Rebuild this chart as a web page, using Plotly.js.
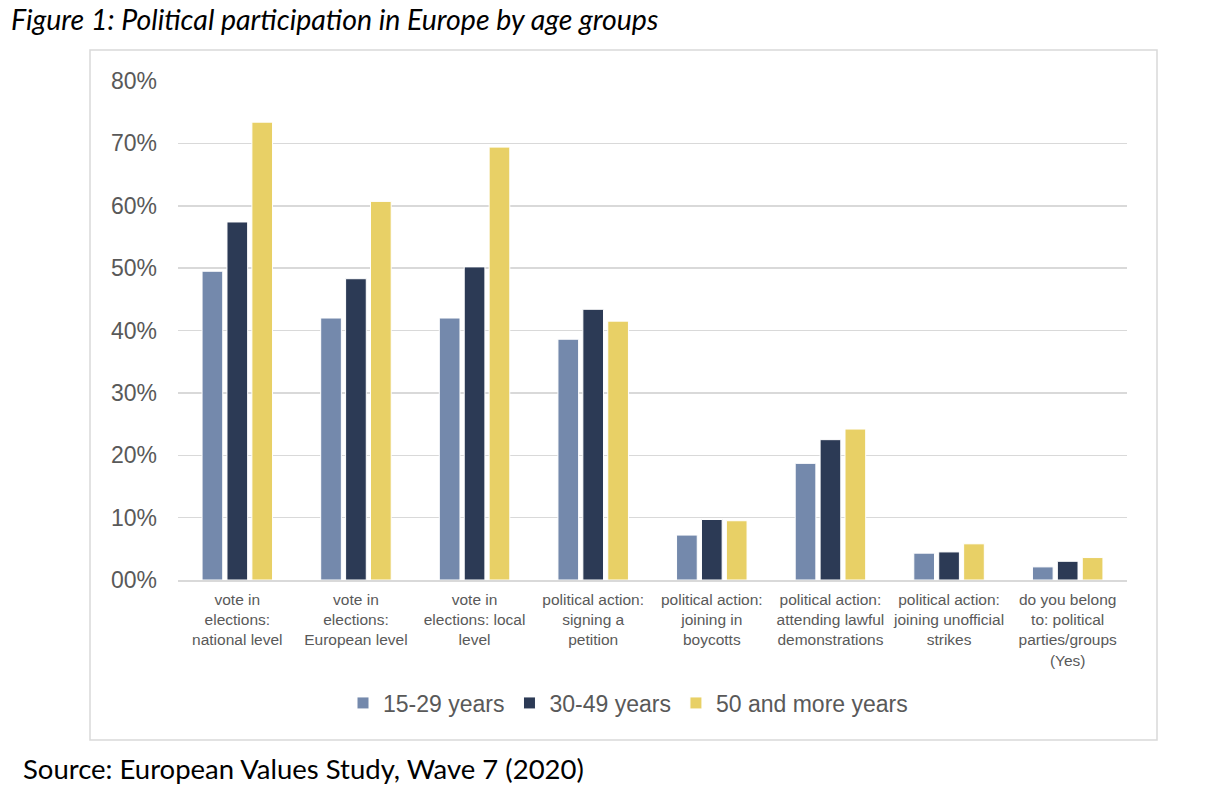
<!DOCTYPE html>
<html><head><meta charset="utf-8">
<script src="https://cdn.plot.ly/plotly-3.0.1.min.js"></script>
<style>html,body{margin:0;padding:0;background:#fff;}#chart{width:1216px;height:786px;}</style>
</head><body><div id="chart"></div>
<script>
const categories = [
  "vote in<br>elections:<br>national level",
  "vote in<br>elections:<br>European level",
  "vote in<br>elections: local<br>level",
  "political action:<br>signing a<br>petition",
  "political action:<br>joining in<br>boycotts",
  "political action:<br>attending lawful<br>demonstrations",
  "political action:<br>joining unofficial<br>strikes",
  "do you belong<br>to: political<br>parties/groups<br>(Yes)"
];
const seriesNames = ["15-29 years", "30-49 years", "50 and more years"];
const age15_29 = [0.495, 0.420, 0.420, 0.386, 0.072, 0.187, 0.043, 0.021];
const age30_49 = [0.574, 0.483, 0.502, 0.434, 0.097, 0.225, 0.045, 0.030];
const age50plus = [0.734, 0.607, 0.694, 0.415, 0.095, 0.242, 0.058, 0.036];
const colors = ["#7489AC", "#2C3A55", "#E8D066"];
const yTicks = [0, 0.1, 0.2, 0.3, 0.4, 0.5, 0.6, 0.7, 0.8];
const yTickText = ["00%", "10%", "20%", "30%", "40%", "50%", "60%", "70%", "80%"];

const values = [age15_29, age30_49, age50plus];
const traces = values.map((v, i) => ({
  type: "bar", x: categories, y: v, name: seriesNames[i],
  marker: {color: colors[i], line: {color: "#ffffff", width: 1}},
  hoverinfo: "skip"
}));

const L = 178, R = 1127, T = 81, B = 580;
const W = R - L, H = B - T;
const px = x => (x - L) / W;
const py = y => (B - y) / H;

const layout = {
  width: 1216, height: 786,
  margin: {l: L, r: 1216 - R, t: T, b: 786 - B},
  paper_bgcolor: "#fff", plot_bgcolor: "#fff",
  barmode: "group", bargap: 0.37, bargroupgap: 0.17,
  font: {family: "Liberation Sans, Arial, sans-serif", color: "#595959"},
  showlegend: true,
  legend: {orientation: "h", x: px(628), xanchor: "center", y: py(703), yanchor: "middle",
    font: {size: 23, color: "#595959"}, traceorder: "normal"},
  xaxis: {tickfont: {size: 15.5, color: "#595959"}, showgrid: false, showline: true,
    linecolor: "#D9D9D9", linewidth: 1.5, ticks: "", fixedrange: true, ticklabelstandoff: 5},
  yaxis: {range: [0, 0.8], tickvals: yTicks, ticktext: yTickText,
    tickfont: {size: 23, color: "#595959"}, showgrid: true, gridcolor: "#D9D9D9", gridwidth: 1.5,
    zeroline: false, showline: false, ticks: "", ticklabelstandoff: 20},
  shapes: [{type: "rect", xref: "paper", yref: "paper",
    x0: px(90), x1: px(1157), y0: py(740), y1: py(50),
    line: {color: "#D9D9D9", width: 1.5}, fillcolor: "rgba(0,0,0,0)", layer: "below"}],
  annotations: [
    {xref: "paper", yref: "paper", x: px(9), y: py(19), xanchor: "left", yanchor: "middle",
     text: "<i>Figure 1: Political participation in Europe by age groups</i>", showarrow: false,
     font: {family: "Lato, Open Sans, sans-serif", size: 28.5, color: "#000"}},
    {xref: "paper", yref: "paper", x: px(21), y: py(768), xanchor: "left", yanchor: "middle",
     text: "Source: European Values Study, Wave 7 (2020)", showarrow: false,
     font: {family: "Lato, Open Sans, sans-serif", size: 27.5, color: "#000"}}
  ]
};
Plotly.newPlot("chart", traces, layout, {displayModeBar: false, staticPlot: true});
</script></body></html>
